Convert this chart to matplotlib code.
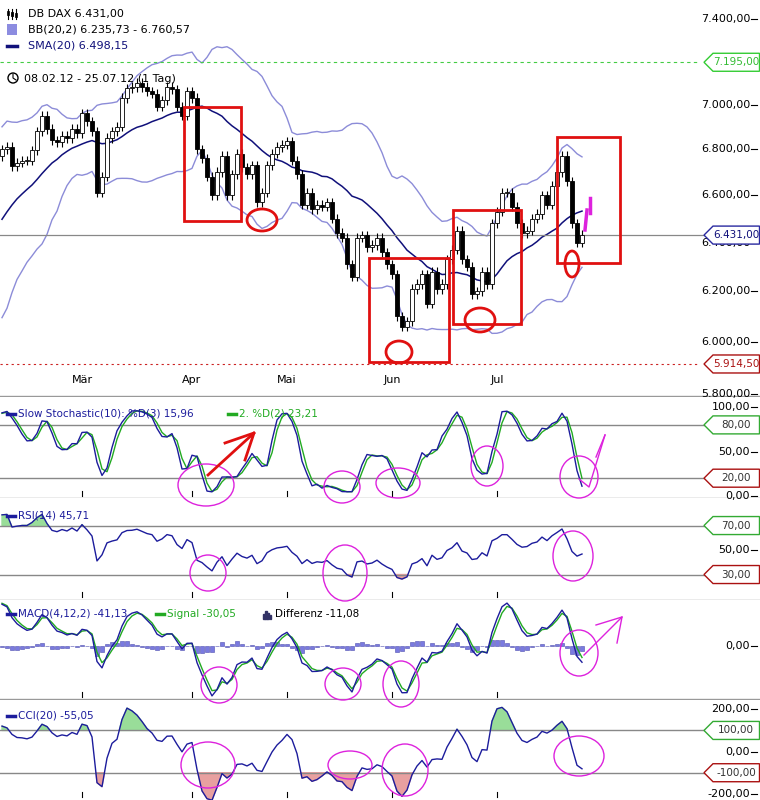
import numpy as np
import matplotlib
matplotlib.use("Agg")
import matplotlib.pyplot as plt
from matplotlib.patches import Rectangle, Ellipse, Polygon
from matplotlib.lines import Line2D
from matplotlib.ticker import NullLocator
import matplotlib.transforms as mtrans

plt.rcParams['font.family'] = ['DejaVu Sans']

# ---------------- data ----------------
warmup_closes = [6166, 6111, 6095, 6057, 6143, 6163, 6179, 6143, 6220, 6332, 6354, 6416,
                 6404, 6436, 6419, 6390, 6511, 6458, 6544, 6616, 6690, 6766, 6754, 6745, 6770]
closes = [6800, 6810, 6725, 6740, 6750, 6750, 6795, 6880, 6950, 6890,
          6840, 6830, 6860, 6850, 6890, 6870, 6960, 6925, 6880, 6610,
          6680, 6850, 6880, 6900, 7030, 7075, 7080, 7100, 7080, 7060,
          7050, 6990, 7020, 7080, 7070, 6990, 6950, 7060, 7030, 6800,
          6760, 6680, 6600, 6700, 6770, 6600, 6690, 6780, 6720, 6690,
          6730, 6570, 6610, 6730, 6780, 6810, 6820, 6835, 6750, 6690,
          6560, 6610, 6540, 6560, 6550, 6570, 6500, 6440, 6420, 6310,
          6260, 6420, 6430, 6380, 6390, 6420, 6360, 6310, 6270, 6100,
          6060, 6080, 6210, 6230, 6270, 6150, 6280, 6210, 6230, 6330,
          6370, 6450, 6330, 6300, 6190, 6200, 6280, 6230, 6480, 6530,
          6610, 6610, 6550, 6480, 6440, 6450, 6500, 6520, 6600, 6560,
          6640, 6700, 6770, 6660, 6480, 6400, 6431]
month_labels = ["Mär", "Apr", "Mai", "Jun", "Jul"]
month_index = [16, 38, 57, 78, 99]
price_ticks = [7400, 7000, 6800, 6600, 6400, 6200, 6000, 5800]
last_price = 6431.0
high_mark = 7195.0
low_mark = 5914.5

# ---------------- indicators ----------------
allc = np.array(warmup_closes + closes, dtype=float)
allo = np.concatenate([[allc[0]], allc[:-1]])
allh = np.maximum(allo, allc) * 1.003
alll = np.minimum(allo, allc) * 0.997
n = len(closes)
W = len(warmup_closes)

def sma(a, k):
    out = np.full(len(a), np.nan)
    for i in range(k - 1, len(a)):
        out[i] = np.mean(a[i - k + 1:i + 1])
    return out

def ema(a, k):
    al = 2.0 / (k + 1)
    out = np.zeros(len(a)); out[0] = a[0]
    for i in range(1, len(a)):
        out[i] = al * a[i] + (1 - al) * out[i - 1]
    return out

mid = sma(allc, 20)
sd = np.array([np.std(allc[max(0, i - 19):i + 1]) for i in range(len(allc))])
up, lo = mid + 2 * sd, mid - 2 * sd

fk = np.full(len(allc), 50.0)
for i in range(9, len(allc)):
    hh = allh[i - 9:i + 1].max(); ll = alll[i - 9:i + 1].min()
    fk[i] = 100 * (allc[i] - ll) / (hh - ll)
stoch_d = sma(fk, 3)
stoch_d2 = sma(stoch_d, 2)

d = np.diff(allc, prepend=allc[0])
g = np.where(d > 0, d, 0); l_ = np.where(d < 0, -d, 0)
ag = np.zeros(len(allc)); al_ = np.zeros(len(allc))
ag[14] = g[1:15].mean(); al_[14] = l_[1:15].mean()
for i in range(15, len(allc)):
    ag[i] = (ag[i - 1] * 13 + g[i]) / 14; al_[i] = (al_[i - 1] * 13 + l_[i]) / 14
rsi = 100 - 100 / (1 + ag / np.maximum(al_, 1e-9))

macd = ema(allc, 4) - ema(allc, 12)
sig = ema(macd, 2)
diff = macd - sig

tp = (allh + alll + allc) / 3
tps = sma(tp, 20)
md = np.array([np.mean(np.abs(tp[max(0, i - 19):i + 1] - tps[i])) for i in range(len(tp))])
cci = (tp - tps) / (0.015 * np.maximum(md, 1e-9))

s = slice(W, W + n)
O, C, H, L = allo[s], allc[s], allh[s], alll[s]
MID, UP, LO = mid[s], up[s], lo[s]
SK, SD = stoch_d[s], stoch_d2[s]
RSI = rsi[s]; MACD = macd[s]; SIG = sig[s]; DIF = diff[s]; CCI = cci[s]
x = np.arange(n)

# ---------------- figure ----------------
FW, FH = 760, 800
fig = plt.figure(figsize=(7.6, 8.0), dpi=100)

def add_ax(top, bottom):
    return fig.add_axes([0, 1 - bottom / FH, 1, (bottom - top) / FH])

XL = (-0.4, -0.4 + FW / 5.0)
PL = 700 / FW

axp = add_ax(0, 397)
axs = add_ax(397, 498)
axr = add_ax(498, 600)
axm = add_ax(600, 700)
axc = add_ax(700, 800)
axp.set_yscale("log")
for a in [axp, axs, axr, axm, axc]:
    a.set_xlim(*XL)
    for sp in a.spines.values():
        sp.set_visible(False)
    a.set_xticks([]); a.set_yticks([])
    a.yaxis.set_minor_locator(NullLocator())
    a.xaxis.set_minor_locator(NullLocator())
    a.patch.set_alpha(0)

def rlabel(ax, v, txt, color="black"):
    tr = mtrans.blended_transform_factory(fig.transFigure, ax.transData)
    ax.text(750 / FW, v, txt, transform=tr, ha="right", va="center", fontsize=8, color=color)
    ax.add_line(Line2D([751 / FW, 757 / FW], [v, v], transform=tr, color="black", lw=0.8))

def boxlabel(ax, v, txt, color, ec):
    disp = ax.transData.transform((0, v))[1]
    yf = disp / FH
    hh = 9 / FH
    pts = [(704 / FW, yf), (713 / FW, yf + hh), (759.5 / FW, yf + hh), (759.5 / FW, yf - hh), (713 / FW, yf - hh)]
    fig.patches.append(Polygon(pts, closed=True, transform=fig.transFigure, facecolor="white",
                               edgecolor=ec, lw=1.0, zorder=5))
    fig.text(736 / FW, yf, txt, ha="center", va="center", fontsize=7.5, color=color, zorder=6)

# ---- price panel ----
axp.set_ylim(5789, 7492)
axp.plot(x, UP, color="#8c8cd8", lw=1.0)
axp.plot(x, LO, color="#8c8cd8", lw=1.0)
axp.plot(x, MID, color="#10107a", lw=1.1)
axp.vlines(x, L, H, color="black", lw=0.8, zorder=3)
cols = ["white" if c >= o else "black" for o, c in zip(O, C)]
bot = np.minimum(O, C); hgt = np.maximum(np.abs(C - O), 2)
axp.bar(x, hgt, bottom=bot, width=0.7, color=cols, edgecolor="black", lw=0.6, zorder=4)
axp.axhline(last_price, xmax=PL + 5 / FW, color="#888888", lw=0.9)
axp.axhline(high_mark, xmax=PL, color="#44cc44", lw=0.8, ls=(0, (3, 3)))
axp.axhline(low_mark, xmax=PL, color="#cc2222", lw=0.8, ls=(0, (2, 3)))
for v in price_ticks:
    rlabel(axp, v, f"{v:,.2f}".replace(",", "X").replace(".", ",").replace("X", "."))
boxlabel(axp, high_mark, "7.195,00", "#33bb33", "#33cc33")
boxlabel(axp, low_mark, "5.914,50", "#aa1111", "#aa1111")
boxlabel(axp, last_price, "6.431,00", "#10107a", "#2a2aa0")
axp.axhline(5792, color="#999999", lw=1.0)
for lab, i in zip(month_labels, month_index):
    axp.text(i, 5835, lab, ha="center", va="bottom", fontsize=8)

# ---- stochastic ----
axs.set_ylim(-2.3, 111.4)
axs.axhline(80, xmax=705 / FW, color="#888888", lw=1); axs.axhline(20, xmax=705 / FW, color="#888888", lw=1)
axs.axhline(-2.0, color="#999999", lw=1)
axs.plot(x, SD, color="#22aa22", lw=1.0)
axs.plot(x, SK, color="#1c1c9c", lw=1.0)
for v in [100, 50, 0]:
    rlabel(axs, v, f"{v},00")
boxlabel(axs, 80, "80,00", "#333333", "#33aa33")
boxlabel(axs, 20, "20,00", "#333333", "#aa1111")

# ---- RSI ----
axr.set_ylim(9.2, 92.5)
axr.axhline(70, xmax=705 / FW, color="#888888", lw=1); axr.axhline(30, xmax=705 / FW, color="#888888", lw=1)
axr.axhline(9.6, color="#999999", lw=1)
axr.fill_between(x, 70, RSI, where=RSI > 70, interpolate=True, color="#99dd99")
axr.fill_between(x, 30, RSI, where=RSI < 30, interpolate=True, color="#e8a0a0")
axr.plot(x, RSI, color="#1c1c9c", lw=1.0)
rlabel(axr, 50, "50,00")
boxlabel(axr, 70, "70,00", "#333333", "#33aa33")
boxlabel(axr, 30, "30,00", "#333333", "#aa1111")

# ---- MACD ----
mx = max(np.nanmax(MACD), np.nanmax(SIG)); mn = min(np.nanmin(MACD), np.nanmin(SIG))
sc = max(mx / 42.0, -mn / 50.0)
axm.set_ylim(-52 * sc, 45 * sc)
axm.axhline(-51.5 * sc, color="#999999", lw=1)
axm.bar(x, DIF, width=0.95, color="#7a7ae0", edgecolor="#5050b0", lw=0.4)
axm.plot(x, SIG, color="#22aa22", lw=1.0)
axm.plot(x, MACD, color="#1c1c9c", lw=1.0)
rlabel(axm, 0, "0,00")

# ---- CCI ----
axc.set_ylim(-229, 244)
axc.axhline(100, xmax=705 / FW, color="#888888", lw=1); axc.axhline(-100, xmax=705 / FW, color="#888888", lw=1)
axc.fill_between(x, 100, CCI, where=CCI > 100, interpolate=True, color="#99dd99")
axc.fill_between(x, -100, CCI, where=CCI < -100, interpolate=True, color="#e8a0a0")
axc.plot(x, CCI, color="#1c1c9c", lw=1.0)
for v, t in [(200, "200,00"), (0, "0,00"), (-200, "-200,00")]:
    rlabel(axc, v, t)
boxlabel(axc, 100, "100,00", "#333333", "#33aa33")
boxlabel(axc, -100, "-100,00", "#333333", "#aa1111")

for a, yb in [(axs, 496), (axr, 597), (axm, 697), (axc, 797)]:
    tr = mtrans.blended_transform_factory(a.transData, fig.transFigure)
    for i in month_index:
        a.add_line(Line2D([i, i], [1 - yb / FH, 1 - (yb - 5) / FH], transform=tr, color="black", lw=0.8))

# ---- overlay (pixel coords) for legends & annotations ----
ov = fig.add_axes([0, 0, 1, 1]); ov.set_xlim(0, FW); ov.set_ylim(FH, 0); ov.axis("off"); ov.patch.set_alpha(0)
ov.text(28, 14, "DB DAX 6.431,00", fontsize=8, va="center")
for k, xx in enumerate([8, 12, 16]):
    ov.plot([xx, xx], [9, 19], color="black", lw=0.8)
    ov.add_patch(Rectangle((xx - 1.2, 11 + k), 2.4, 4, facecolor="white" if k != 1 else "black", edgecolor="black", lw=0.6))
ov.add_patch(Rectangle((7, 24), 10, 11, facecolor="#8c8ce0", edgecolor="none"))
ov.text(28, 30, "BB(20,2) 6.235,73 - 6.760,57", fontsize=8, va="center")
ov.plot([7, 17], [46, 46], color="#10107a", lw=2.5)
ov.text(28, 46, "SMA(20) 6.498,15", fontsize=8, va="center", color="#10107a")
ov.add_patch(Ellipse((13, 78), 10, 10, fill=False, edgecolor="black", lw=1))
ov.plot([13, 13, 16], [74, 78, 80], color="black", lw=0.8)
ov.text(24, 79, "08.02.12 - 25.07.12 (1 Tag)", fontsize=8, va="center")

def leg(y, items):
    for xx, col, txt, tcol in items:
        ov.plot([xx, xx + 8], [y, y], color=col, lw=2.5)
        ov.text(xx + 11, y, txt, fontsize=7.5, va="center", color=tcol)
leg(414, [(7, "#1c1c9c", "Slow Stochastic(10): %D(3) 15,96", "#1c1c9c"), (228, "#22aa22", "2. %D(2) 23,21", "#22aa22")])
leg(516, [(7, "#1c1c9c", "RSI(14) 45,71", "#1c1c9c")])
leg(614, [(7, "#1c1c9c", "MACD(4,12,2) -41,13", "#1c1c9c"), (156, "#22aa22", "Signal -30,05", "#22aa22")])
for k, hh in enumerate([5, 8, 6, 4]):
    ov.add_patch(Rectangle((263 + k * 2.2, 619 - hh), 1.8, hh, color="#333366"))
ov.text(275, 614, "Differenz -11,08", fontsize=7.5, va="center")
leg(716, [(7, "#1c1c9c", "CCI(20) -55,05", "#1c1c9c")])

red = "#e01010"
for (x0, y0, x1, y1) in [(184, 107, 241, 221), (369, 258, 449, 362), (453, 210, 521, 324), (557, 137, 620, 263)]:
    ov.add_patch(Rectangle((x0, y0), x1 - x0, y1 - y0, fill=False, edgecolor=red, lw=2))
for (cx, cy, w, h) in [(262, 220, 30, 22), (399, 352, 26, 22), (480, 320, 30, 24), (572, 264, 14, 26)]:
    ov.add_patch(Ellipse((cx, cy), w, h, fill=False, edgecolor=red, lw=2))
mag = "#dd22dd"
ov.plot([585, 587], [230, 210], color=mag, lw=2.5)
ov.plot([590, 590], [213, 198], color=mag, lw=2.5)
for (cx, cy, rx, ry) in [(206, 485, 28, 21), (342, 487, 18, 16), (398, 483, 22, 15), (487, 466, 16, 20), (579, 477, 19, 21),
                         (208, 573, 18, 18), (345, 573, 22, 28), (573, 556, 20, 25),
                         (219, 685, 18, 18), (343, 684, 18, 16), (401, 684, 18, 23), (579, 653, 19, 23),
                         (208, 765, 27, 23), (350, 765, 22, 14), (405, 770, 23, 26), (579, 756, 25, 20)]:
    ov.add_patch(Ellipse((cx, cy), 2 * rx, 2 * ry, fill=False, edgecolor=mag, lw=1))
ov.plot([208, 254], [475, 433], color=red, lw=2)
ov.plot([225, 254, 245], [443, 433, 460], color=red, lw=2)
ov.plot([579, 589, 605], [479, 487, 435], color=mag, lw=1)
ov.plot([596, 605], [457, 435], color=mag, lw=1)
ov.plot([584, 622], [655, 617], color=mag, lw=1)
ov.plot([596, 622, 617], [625, 617, 643], color=mag, lw=1)

fig.savefig("out.png", dpi=100, facecolor="white")
